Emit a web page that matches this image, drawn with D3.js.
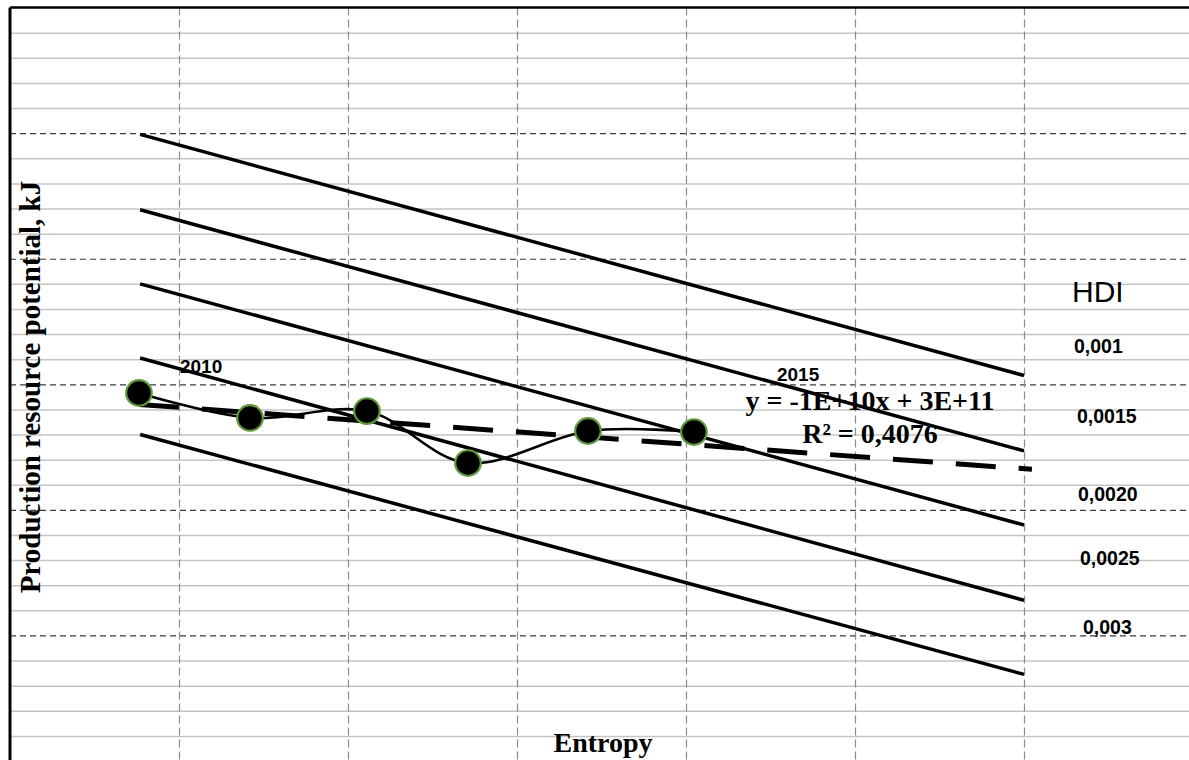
<!DOCTYPE html>
<html>
<head>
<meta charset="utf-8">
<script src="https://cdn.jsdelivr.net/npm/d3@7"></script>
<style>
  html, body { margin: 0; padding: 0; background: #fff; }
  svg { display: block; }
</style>
</head>
<body>
<svg id="chart" width="1189" height="760"></svg>
<script>
// ---- data (arbitrary chart units) ----
const years = [2010, 2011, 2012, 2013, 2014, 2015];
const entropy = [0.763, 1.420, 2.112, 2.710, 3.420, 4.047];
const potential = [2.931, 2.732, 2.787, 2.373, 2.628, 2.620];

// HDI isolines (straight lines), start/end entropy and potentials
const hdiLevels = ["0,001", "0,0015", "0,0020", "0,0025", "0,003"];
const isoEntropy = [0.77, 6.0];
const isoStart = [4.99, 4.39, 3.80, 3.21, 2.60];
const isoEnd = [3.07, 2.47, 1.88, 1.28, 0.69];

// linear trend forecast forward (entropy units)
const trendForward = 2.0;
const trendEquation = "y = -1E+10x + 3E+11";
const trendR2 = "R\u00B2 = 0,4076";

// axes extents / gridlines
const xDomain = [0, 7];
const yDomain = [0, 6];
const xMajor = [1, 2, 3, 4, 5, 6];
const yMajor = [1, 2, 3, 4, 5];
const yMinor = d3.range(0, 30).map(i => +(i * 0.2).toFixed(1)).filter(v => Math.abs(v - Math.round(v)) > 1e-6);

const xTitle = "Entropy";
const yTitle = "Production resource potential, kJ";
const hdiTitle = "HDI";

// ---- layout ----
const svg = d3.select("#chart");
const L = 10, T = 7.6, unitX = 169, unitY = 125.57;
const x = d3.scaleLinear().domain(xDomain).range([L, L + unitX * 7]);
const y = d3.scaleLinear().domain(yDomain).range([T + unitY * 6, T]);
const W = x(xDomain[1]) - L, H = y(yDomain[0]) - T;

const serif = "'Liberation Serif', 'Times New Roman', serif";
const sans = "'Liberation Sans', Arial, sans-serif";

// minor horizontal grid
svg.append("g")
  .attr("transform", `translate(${L},0)`)
  .call(d3.axisLeft(y).tickValues(yMinor).tickSize(-W).tickFormat(""))
  .call(g => g.select(".domain").remove())
  .call(g => g.selectAll("line").attr("stroke", "#c4c4c4").attr("stroke-width", 1.5));

// major horizontal grid (dashed)
svg.append("g")
  .attr("transform", `translate(${L},0)`)
  .call(d3.axisLeft(y).tickValues(yMajor).tickSize(-W).tickFormat(""))
  .call(g => g.select(".domain").remove())
  .call(g => g.selectAll("line").attr("stroke", "#3a3a3a").attr("stroke-width", 1.2).attr("stroke-dasharray", "6,4"));

// vertical grid (dashed gray)
svg.append("g")
  .attr("transform", `translate(0,${T})`)
  .call(d3.axisBottom(x).tickValues(xMajor).tickSize(H).tickFormat(""))
  .call(g => g.select(".domain").remove())
  .call(g => g.selectAll("line").attr("stroke", "#8c8c8c").attr("stroke-width", 1.2).attr("stroke-dasharray", "8,4"));

// plot borders (left and top)
svg.append("line").attr("x1", L).attr("x2", L).attr("y1", T).attr("y2", T + H)
  .attr("stroke", "#000").attr("stroke-width", 3);
svg.append("line").attr("x1", L).attr("x2", L + W).attr("y1", T).attr("y2", T)
  .attr("stroke", "#000").attr("stroke-width", 2.5);

// isolines
svg.append("g").selectAll("line").data(hdiLevels).join("line")
  .attr("x1", x(isoEntropy[0])).attr("x2", x(isoEntropy[1]))
  .attr("y1", (d, i) => y(isoStart[i])).attr("y2", (d, i) => y(isoEnd[i]))
  .attr("stroke", "#000").attr("stroke-width", 3.5).attr("stroke-linecap", "butt");

const pts = entropy.map((e, i) => [e, potential[i]]);

// smoothed series line
svg.append("path")
  .datum(pts)
  .attr("fill", "none").attr("stroke", "#000").attr("stroke-width", 2.6)
  .attr("d", d3.line().x(d => x(d[0])).y(d => y(d[1])).curve(d3.curveCardinal.tension(0)));

// linear trend (least squares) with forward forecast
const mx = d3.mean(entropy), my = d3.mean(potential);
const sxy = d3.sum(entropy.map((e, i) => (e - mx) * (potential[i] - my)));
const sxx = d3.sum(entropy.map(e => (e - mx) ** 2));
const slope = sxy / sxx, icpt = my - slope * mx;
const tx0 = entropy[0], tx1 = entropy[entropy.length - 1] + trendForward;
svg.append("line")
  .attr("x1", x(tx0)).attr("y1", y(icpt + slope * tx0))
  .attr("x2", x(tx1)).attr("y2", y(icpt + slope * tx1))
  .attr("stroke", "#000").attr("stroke-width", 5).attr("stroke-dasharray", "40,23");

// markers
svg.append("g").selectAll("circle").data(pts).join("circle")
  .attr("cx", d => x(d[0])).attr("cy", d => y(d[1])).attr("r", 12.8)
  .attr("fill", "#000").attr("stroke", "#5f9a3a").attr("stroke-width", 2.2);

// year labels
svg.append("text").attr("x", x(entropy[0]) + 41).attr("y", y(potential[0]) - 20)
  .attr("font-family", sans).attr("font-weight", "bold").attr("font-size", 19)
  .text(years[0]);
svg.append("text").attr("x", x(entropy[5]) + 83).attr("y", y(potential[5]) - 51)
  .attr("font-family", sans).attr("font-weight", "bold").attr("font-size", 19)
  .text(years[5]);

// trend equation
svg.append("text").attr("x", 870).attr("y", 410).attr("text-anchor", "middle")
  .attr("font-family", serif).attr("font-weight", "bold").attr("font-size", 28)
  .text(trendEquation);
svg.append("text").attr("x", 870).attr("y", 443).attr("text-anchor", "middle")
  .attr("font-family", serif).attr("font-weight", "bold").attr("font-size", 28)
  .text(trendR2);

// HDI labels
svg.append("text").attr("x", 1072).attr("y", 302)
  .attr("font-family", sans).attr("font-size", 30).text(hdiTitle);
const hdiLabelPos = [[1074, 353], [1077, 423], [1078, 501], [1080, 565], [1083, 634]];
svg.append("g").selectAll("text").data(hdiLevels).join("text")
  .attr("x", (d, i) => hdiLabelPos[i][0]).attr("y", (d, i) => hdiLabelPos[i][1])
  .attr("font-family", sans).attr("font-weight", "bold").attr("font-size", 19.5)
  .text(d => d);

// axis titles
svg.append("text").attr("x", 603).attr("y", 752).attr("text-anchor", "middle")
  .attr("font-family", serif).attr("font-weight", "bold").attr("font-size", 28)
  .text(xTitle);
svg.append("text").attr("transform", "translate(40,387) rotate(-90)").attr("text-anchor", "middle")
  .attr("font-family", serif).attr("font-weight", "bold").attr("font-size", 29)
  .text(yTitle);
</script>
</body>
</html>
